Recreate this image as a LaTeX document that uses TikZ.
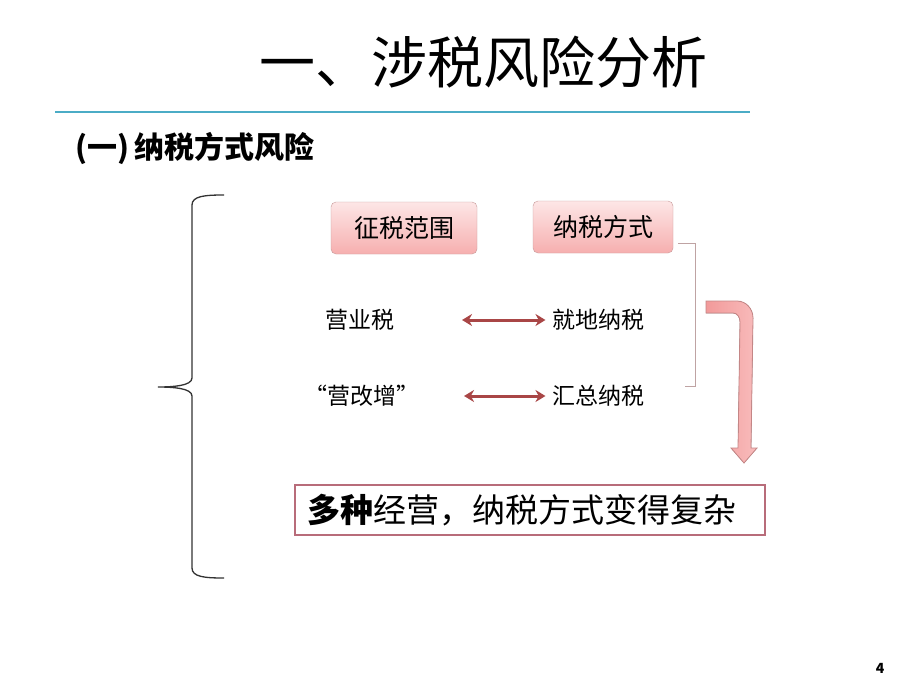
\documentclass[tikz,border=0pt]{standalone}
\usepackage{fontspec}
\setmainfont{Noto Sans CJK SC}
\usetikzlibrary{arrows.meta}
\definecolor{ruleblue}{HTML}{4BACC6}
\definecolor{boxedge}{HTML}{C79A9A}
\definecolor{boxtop}{HTML}{FDE6E6}
\definecolor{boxbot}{HTML}{F6AFAF}
\definecolor{arrowred}{HTML}{A94646}
\definecolor{bendleft}{HTML}{F29A9A}
\definecolor{bendfill}{HTML}{F8BCBC}
\definecolor{bendedge}{HTML}{C48686}
\definecolor{sumedge}{HTML}{B86C7A}
\definecolor{bracketgray}{HTML}{BFA3A3}
\begin{document}
\begin{tikzpicture}[x=1pt,y=-1pt,
  pinkbox/.style={draw=boxedge,rounded corners=5pt,top color=boxtop,bottom color=boxbot,minimum width=#1,minimum height=52pt,font=\fontsize{25}{25}\selectfont},
  item/.style={font=\fontsize{23}{23}\selectfont},
  swap/.style={draw=arrowred,line width=3pt,{Stealth[length=10pt,width=12pt]}-{Stealth[length=10pt,width=12pt]}}]
\fill[white] (0,0) rectangle (920,690);
\useasboundingbox (0,0) rectangle (920,690);
% heading
\node[font=\fontsize{56}{56}\selectfont] (title) at (483,62) {一、涉税风险分析};
\coordinate (ruleL) at (55,112);
\coordinate (ruleR) at (750,112);
\draw[ruleblue,line width=1.5pt] (ruleL) -- (ruleR);
\node[anchor=west,font=\bfseries\fontsize{30}{30}\selectfont] (sub) at (72,148) {(一)\hspace{5pt}纳税方式风险};
% left brace
\draw[line width=1.3pt,black!80] (224,195) .. controls (205,195) and (192,196) .. (192,205) -- (192,378)
  .. controls (192,386) and (172,387) .. (158,387) .. controls (172,387) and (192,388) .. (192,396) -- (192,568)
  .. controls (192,577) and (205,578) .. (224,578);
% the two headers
\node[pinkbox=146pt] (scope) at (404,228) {征税范围};
\node[pinkbox=140pt] (mode) at (603,227) {纳税方式};
% the rows
\node[item] (yingye) at (360,320) {营业税};
\node[item] (jiudi) at (598,320) {就地纳税};
\node[item] (yinggai) at (362,396) {“营改增”};
\node[item] (huizong) at (598,396) {汇总纳税};
\draw[swap,shorten <=64pt,shorten >=3pt] (yingye.east) -- (jiudi.west);
\draw[swap,shorten <=41pt,shorten >=3pt] (yinggai.east) -- (huizong.west);
% bracket on the right
\coordinate (brkTop) at (695,243);
\coordinate (brkBot) at (695,386);
\coordinate (brkEnd) at (685,386);
\draw[bracketgray,line width=1pt] ([xshift=5pt]mode.east |- brkTop) -- (brkTop) -- (brkBot) -- (brkEnd);
% bent block arrow
\filldraw[left color=bendleft,right color=bendfill,draw=bendedge,line width=0.8pt] (706,301) -- (737,301) to[out=0,in=90] (753,318) -- (751,448)
  -- (757,448) -- (744,463) -- (731,448) -- (738,448) -- (740,322) to[out=90,in=0] (733,313) -- (706,313) -- cycle;
% result
\node[draw=sumedge,line width=1.8pt,minimum width=470pt,minimum height=50pt,text width=446pt,align=left,
  inner xsep=12pt,font=\fontsize{33}{33}\selectfont] (sum) at (530,510) {\textbf{多种}经营，纳税方式变得复杂};
\node[font=\bfseries\fontsize{14}{14}\selectfont] (page) at (880,668) {4};
\end{tikzpicture}
\end{document}
